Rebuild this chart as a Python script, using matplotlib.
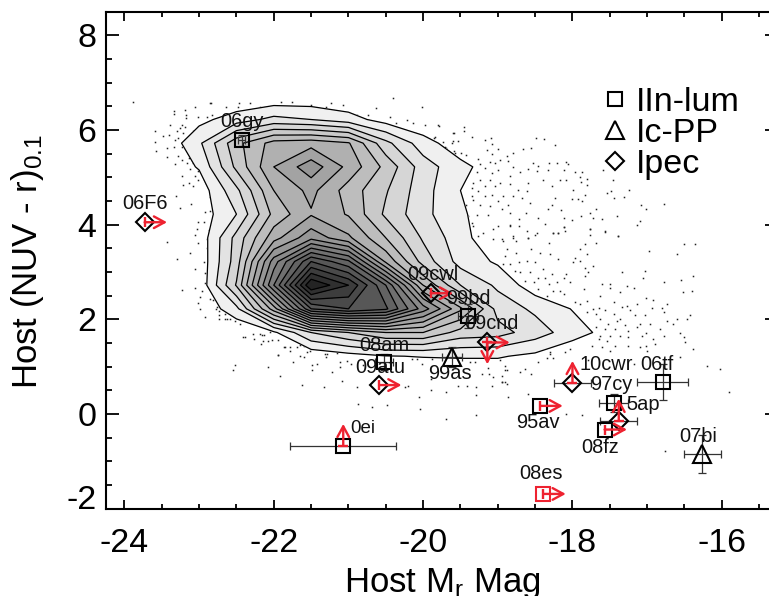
import numpy as np
import matplotlib
matplotlib.use('Agg')
import matplotlib.pyplot as plt
from matplotlib.ticker import MultipleLocator

plt.rcParams['font.family'] = ['Liberation Sans', 'DejaVu Sans']
plt.rcParams['mathtext.default'] = 'regular'
plt.rcParams['axes.unicode_minus'] = False

# binned galaxy density
grid_x = [-23.5, -23, -22.5, -22, -21.5, -21, -20.5, -20, -19.5, -19, -18.5, -18, -17.5, -17, -16.5]
grid_y = [6.72, 6.22, 5.72, 5.22, 4.72, 4.22, 3.72, 3.22, 2.72, 2.22, 1.72, 1.22, 0.72]
density = [
    [0, 0, 0, .1, .18, 0, 0, 0, 0, 0, 0, 0, 0, 0, 0],
    [0, .7, 1.5, 2.3, 2.0, 1.45, .55, .1, 0, 0, 0, 0, 0, 0, 0],
    [.1, 1.8, 4.7, 6.4, 6.6, 6.1, 3.3, 1.45, .35, .1, 0, 0, 0, 0, 0],
    [.1, 1.1, 4.25, 7.0, 8.6, 6.7, 4.7, 2.5, 1.3, .39, 0, 0, 0, 0, 0],
    [0, .36, 2.75, 6.0, 7.3, 5.55, 4.1, 2.4, 1.0, .3, 0, 0, 0, 0, 0],
    [0, .39, 2.0, 5.3, 6.9, 5.9, 3.8, 2.3, 1.15, .36, .05, 0, 0, 0, 0],
    [0, .3, 3.35, 6.6, 8.7, 7.2, 5.0, 2.85, 1.4, .1, 0, 0, 0, 0, 0],
    [0, .25, 3.5, 9.5, 14, 12.2, 6.8, 3.6, 1.6, .85, .1, 0, 0, 0, 0],
    [0, .2, 4.1, 11, 18, 16, 12, 6, 3, 1.8, .39, 0, 0, 0, 0],
    [0, .05, 1.7, 6.5, 13, 14, 13.2, 9.5, 6.2, 2.6, 1.8, .95, .05, 0, 0],
    [0, 0, .05, .8, 3, 4, 5, 5, 3.6, 3.4, 2.5, 1.47, .6, .05, 0],
    [0, 0, 0, 0, .2, .57, .95, 1.05, 1.1, 1.1, .76, .1, 0, 0, 0],
    [0, 0, 0, 0, 0, 0, 0, 0, 0, 0, 0, 0, 0, 0, 0],
]

# galaxies outside the lowest contour
dots_upper_right = [
    (-19.79,6.12),(-19.45,6.09),(-19.84,5.89),(-19.59,5.96),(-19.45,6.0),(-19.35,5.89),(-19.17,5.82),(-19.09,5.87),
    (-19.73,5.77),(-19.62,5.75),(-19.53,5.8),(-19.08,5.73),(-19.0,5.63),(-19.7,5.65),(-19.57,5.54),(-19.49,5.54),
    (-19.42,5.51),(-19.15,5.6),(-19.08,5.52),(-19.26,5.42),(-18.88,5.47),(-18.79,5.54),(-18.66,5.63),(-18.55,5.65),
    (-18.49,5.86),(-18.38,5.84),(-18.24,5.72),(-18.53,5.33),(-18.46,5.26),(-18.31,5.33),(-18.21,5.33),(-18.08,5.35),
    (-18.06,5.3),(-17.59,5.19),(-17.97,5.14),(-17.87,5.14),(-18.12,5.19),(-18.33,5.19),(-18.47,5.17),(-18.59,5.21),
    (-18.7,5.14),(-18.79,5.25),(-18.87,5.38),(-18.97,5.4),(-19.04,5.33),(-19.11,5.35),(-19.24,5.31),(-19.17,5.23),
    (-19.0,5.19),(-19.08,5.12),(-19.28,5.14),(-18.84,5.05),(-19.24,4.98),(-19.11,4.98),(-18.97,4.91),(-19.33,4.91),
    (-19.35,4.81),(-19.17,4.84),(-19.04,4.84),(-18.84,4.88),(-18.59,4.91),(-18.39,4.98),(-18.28,4.84),(-18.17,4.98),
    (-18.08,4.97),(-17.9,5.03),(-17.8,5.0),(-17.88,4.92),(-17.81,4.86),(-17.46,4.98),(-17.54,4.7),(-17.48,4.75),
    (-17.45,4.59),(-17.24,4.76),(-17.31,4.61),(-17.99,4.76),(-17.83,4.66),(-18.61,4.75),(-18.73,4.77),(-19.26,4.75),
    (-19.35,4.63),(-19.17,4.63),(-19.08,4.66),(-18.93,4.63),(-18.79,4.63),(-18.68,4.59),(-18.57,4.49),(-19.33,4.54),
    (-19.42,4.45),(-19.24,4.45),(-19.11,4.42),(-19.0,4.52),(-18.86,4.45),(-18.24,4.59),(-18.01,4.58),(-17.92,4.58),
    (-17.87,4.52),(-18.28,4.45),(-18.33,4.35),(-18.15,4.34),(-18.62,4.28),(-18.84,4.28),(-18.95,4.35),(-19.28,4.24),
    (-19.4,4.21),(-19.13,4.24),(-18.71,4.14),(-18.46,4.17),(-18.37,4.05),(-18.12,4.17),(-18.01,4.12),(-17.88,4.21),
    (-17.77,4.28),(-17.69,4.37),(-17.73,4.17),(-17.61,4.15),(-17.4,4.21),(-17.08,4.44),(-17.02,4.35),(-16.78,4.47),
    (-17.09,4.1),(-17.14,4.03),(-17.77,3.93),(-17.56,3.88),(-17.77,3.81),(-17.39,3.79),(-18.26,3.86),(-18.19,3.86),
    (-18.11,3.98),(-18.1,3.89),(-18.48,3.86),(-18.59,3.75),(-18.79,3.75),(-19.0,4.0),(-19.06,3.93),(-19.2,3.86),
    (-19.33,4.0),(-19.35,4.07),(-19.26,3.79),(-18.84,4.03),(-19.06,3.73),(-18.95,3.72),
]
dots_lower_right = [
    (-18.84,4.0),(-18.72,4.0),(-18.61,3.89),(-18.79,3.79),(-18.5,3.82),(-18.26,3.86),(-18.12,3.98),(-18.19,3.86),
    (-17.76,3.93),(-17.56,3.89),(-17.39,3.79),(-18.93,3.68),(-18.75,3.68),(-18.59,3.75),(-18.32,3.65),(-17.83,3.61),
    (-17.68,3.65),(-16.51,3.61),(-16.36,3.63),(-18.88,3.51),(-18.55,3.51),(-17.9,3.51),(-16.6,3.4),(-16.97,3.47),
    (-18.75,3.44),(-18.43,3.42),(-18.3,3.4),(-18.19,3.3),(-17.97,3.33),(-17.81,3.4),(-18.9,3.37),(-18.61,3.26),
    (-18.5,3.23),(-17.99,3.23),(-17.9,3.26),(-18.93,3.19),(-18.84,3.19),(-18.72,3.23),(-18.39,3.09),(-18.28,2.98),
    (-17.83,3.12),(-17.72,3.16),(-17.79,3.02),(-17.34,3.02),(-17.03,3.05),(-17.05,2.9),(-18.77,3.05),(-18.7,3.02),
    (-18.57,3.02),(-18.08,2.98),(-18.46,2.91),(-18.37,2.9),(-18.12,2.9),(-18.64,2.84),(-18.52,2.81),(-18.32,2.77),
    (-18.21,2.81),(-18.03,2.81),(-17.83,2.95),(-17.61,2.77),(-17.5,2.77),(-16.78,2.81),(-16.54,2.86),(-16.38,2.95),
    (-18.46,2.67),(-18.26,2.63),(-18.17,2.63),(-17.85,2.67),(-17.5,2.7),(-17.18,2.7),(-17.27,2.74),(-16.4,2.63),
    (-16.52,2.6),(-18.34,2.53),(-18.12,2.56),(-17.81,2.42),(-17.63,2.53),(-17.36,2.6),(-17.01,2.48),(-16.92,2.44),
    (-17.97,2.39),(-17.9,2.35),(-17.45,2.39),(-17.27,2.32),(-17.14,2.36),(-16.74,2.36),(-16.94,2.27),(-16.8,2.27),
    (-17.72,2.25),(-17.65,2.27),(-17.56,2.22),(-17.34,2.28),(-17.23,2.22),(-17.81,2.18),(-17.68,2.14),(-17.45,2.14),
    (-17.36,2.04),(-17.16,2.11),(-17.03,2.11),(-16.78,2.18),(-16.43,2.11),(-16.6,2.04),(-16.47,2.04),(-17.63,2.04),
    (-17.52,1.93),(-17.41,2.0),(-17.3,1.9),(-17.1,1.93),(-16.96,1.92),(-16.74,2.0),(-16.83,1.82),(-16.65,1.93),
    (-16.56,1.75),(-17.68,1.86),(-17.56,1.82),(-17.43,1.82),(-17.25,1.79),(-17.14,1.86),(-17.01,1.75),(-16.78,1.68),
    (-17.63,1.68),(-17.5,1.68),(-17.36,1.68),(-17.25,1.65),(-17.07,1.68),(-16.51,1.65),(-16.92,1.61),(-17.65,1.61),
    (-17.54,1.58),(-17.43,1.47),(-17.25,1.47),(-17.09,1.44),(-17.01,1.47),(-16.89,1.51),(-16.38,1.4),(-16.49,1.54),
    (-17.74,1.47),(-17.61,1.44),(-18.03,1.4),(-18.1,1.33),(-18.3,1.33),(-18.26,1.21),(-18.34,1.21),
    (-16.2,1.05),(-16.03,.97),(-15.9,.5),(-16.76,-.76),(-17.87,-.0),(-18.08,.02),(-18.6,.46),(-18.87,.38),
    (-18.46,1.12),(-18.88,.95),(-18.7,.91),(-18.55,.88),(-18.95,.7),(-18.9,.7),(-18.64,.98),(-18.3,1.3),
    (-17.79,1.16),(-17.18,1.09),(-16.56,1.23),(-17.0,1.37),(-17.5,1.37),
]
dots_lower = [
    (-22.39,1.66),(-22.27,1.61),(-22.18,1.71),(-22.13,1.69),(-22.17,1.51),(-22.08,1.57),(-22.03,1.59),(-21.95,1.59),
    (-21.87,1.45),(-21.78,1.45),(-21.69,1.44),(-21.6,1.47),(-21.78,1.37),(-21.65,1.26),(-21.51,1.37),(-21.94,1.28),
    (-21.6,1.23),(-21.74,1.12),(-22.08,1.03),(-22.52,1.07),(-22.54,.96),(-21.49,1.07),(-21.42,1.09),(-21.49,.95),
    (-21.31,1.3),(-21.3,1.23),(-21.16,1.31),(-21.22,.91),(-21.11,1.12),(-21.02,1.14),(-21.11,1.03),(-20.97,1.09),
    (-20.8,1.07),(-21.92,.84),(-21.62,.65),(-21.33,.6),(-21.09,.72),(-20.89,.6),(-20.87,.23),(-20.69,.17),
    (-20.48,.21),(-20.04,.13),(-19.7,-.08),(-19.29,.0),(-20.2,.63),(-20.24,.6),(-20.06,.39),(-20.15,1.19),
    (-20.08,1.19),(-20.02,1.09),(-19.88,1.19),(-19.9,.77),(-19.9,.53),(-19.7,.49),(-19.53,.63),(-19.41,.63),
    (-19.29,.6),(-19.29,.44),(-19.37,1.12),(-19.3,1.12),(-19.21,.88),(-19.12,.88),(-19.06,.81),(-19.08,.63),
    (-18.95,.7),(-18.9,.95),(-18.9,1.05),(-18.97,1.16),(-19.13,1.0),(-18.88,.67),(-18.95,.84),
    (-22.77,2.25),(-22.74,2.11),(-22.63,2.04),(-22.52,2.0),(-22.45,1.93),(-22.92,2.07),(-22.41,1.65),(-22.28,1.72),
    (-22.16,1.69),(-22.05,1.76),(-22.15,1.58),(-21.94,1.27),(-21.85,1.44),(-21.65,1.48),(-21.56,1.34),(-21.29,1.3),
]
dots_left = [
    (-23.89,6.63),(-22.84,6.59),(-23.05,6.52),(-23.19,6.45),(-23.33,6.42),(-23.34,6.36),(-23.17,6.35),(-23.17,6.28),
    (-23.02,6.3),(-22.9,6.31),(-22.83,6.35),(-23.39,6.14),(-23.23,6.14),(-23.25,6.07),(-23.01,6.1),(-23.19,6.1),
    (-23.08,6.0),(-23.59,6.0),(-23.41,5.93),(-23.48,5.91),(-23.3,6.0),(-23.21,5.96),(-23.28,5.86),(-23.32,5.82),
    (-23.59,5.77),(-23.58,5.59),(-23.43,5.65),(-23.34,5.68),(-23.23,5.68),(-23.28,5.47),(-23.43,5.45),(-23.32,5.3),
    (-23.23,5.4),(-23.14,5.44),(-23.16,5.33),(-23.08,5.33),(-23.12,5.21),(-23.01,5.16),(-23.23,5.05),(-23.05,5.05),
    (-23.01,4.98),(-23.21,4.87),(-23.08,4.84),(-23.14,4.91),(-22.85,4.61),(-23.31,4.64),(-23.25,4.38),(-23.11,4.47),
    (-22.82,4.42),(-22.85,4.31),(-22.92,4.3),(-23.01,4.08),(-22.94,4.08),(-22.87,3.91),(-23.03,3.93),(-23.05,3.8),
    (-22.89,3.72),(-23.01,3.65),(-23.43,3.66),(-22.9,3.54),(-23.12,3.42),(-23.3,3.3),(-22.94,3.23),(-23.05,3.09),
    (-22.92,3.0),(-22.92,2.8),(-23.05,2.7),(-23.23,2.65),(-22.99,2.49),(-22.96,2.63),(-22.85,2.45),(-22.81,2.43),
    (-23.01,2.38),(-22.99,2.24),(-22.76,2.28),(-22.74,2.21),(-22.65,2.14),(-22.74,2.03),(-22.65,2.03),(-22.58,2.03),
]
dots_top = [
    (-22.86,6.59),(-22.64,6.52),(-22.46,6.59),(-22.48,6.52),(-22.32,6.59),(-22.19,6.52),(-21.9,6.63),(-21.76,6.63),
    (-21.71,6.52),(-21.5,6.56),(-21.23,6.59),(-21.3,6.52),(-21.07,6.56),(-20.89,6.35),(-20.74,6.35),(-20.63,6.49),
    (-20.4,6.71),(-20.45,6.31),(-20.22,6.24),(-20.36,6.17),(-20.02,6.52),(-20.14,6.17),(-19.98,6.14),(-20.11,5.96),
    (-19.96,5.89),(-19.8,6.14),(-19.85,5.86),(-19.71,5.68),(-19.6,5.79),(-19.58,5.58),(-19.6,5.96),
]

# supernova hosts: name, Mr, colour, x err, y err
iin_names = ['06gy', '99bd', '08am', '97cy', '95av', '08fz', '06tf', '08es', '0ei']
iin_x = [-22.43, -19.40, -20.53, -17.45, -18.43, -17.57, -16.79, -18.39, -21.07]
iin_y = [5.78, 2.07, 1.09, 0.23, 0.17, -0.33, 0.67, -1.69, -0.67]
iin_xerr = [0.05, 0.13, 0.12, 0.20, 0, 0, 0.34, 0, 0.71]
iin_yerr = [0.12, 0.26, 0.17, 0.19, 0, 0, 0.38, 0, 0]
ic_names = ['99as', '07bi']
ic_x = [-19.61, -16.26]
ic_y = [1.20, -0.85]
ic_xerr = [0.135, 0.25]
ic_yerr = [0.21, 0.40]
pec_names = ['06F6', '09cwl', '09cnd', '09atu', '10cwr', '5ap']
pec_x = [-23.73, -19.90, -19.14, -20.59, -18.00, -17.38]
pec_y = [4.05, 2.55, 1.51, 0.61, 0.66, -0.14]
pec_xerr = [0, 0, 0, 0, 0.245, 0.245]
pec_yerr = [0, 0, 0, 0, 0, 0]

limit_right = ['06F6', '09cwl', '09cnd', '09atu', '95av', '08fz', '08es']
limit_up = ['10cwr', '5ap', '0ei']
limit_down = ['09cnd']

x_ticks = [-24, -22, -20, -18, -16]
y_ticks = [-2, 0, 2, 4, 6, 8]

RED = '#ee2230'
W, H = 769, 596
label_offsets = {'06gy': (0, 19), '06F6': (0, 19), '09cwl': (2, 19), '99bd': (0, 17), '09cnd': (4, 19),
                 '08am': (1, 17), '09atu': (1, 18), '99as': (-2, -16), '10cwr': (34, 18), '97cy': (-2, 19),
                 '5ap': (24, 16), '95av': (-2, -17), '08fz': (-4, -18), '06tf': (-6, 18), '07bi': (-4, 18),
                 '08es': (-2, 20), '0ei': (20, 17)}

fig = plt.figure(figsize=(W / 100, H / 100), dpi=100)
ax = fig.add_axes([105.8 / W, (H - 508.6) / H, 672 / W, 497 / H])
ax.set_xlim(-24.25, -15.25)
ax.set_ylim(-2, 8.5)

dots = np.array(dots_upper_right + dots_lower_right + dots_lower + dots_left + dots_top)
ax.plot(dots[:, 0], dots[:, 1] - 0.03, ls='none', marker='s', ms=1.1, mew=0, color='#222222', zorder=1)

levels = list(range(1, 18))
greys = [str(round(0.94 - (k - 1) * 0.05, 3)) for k in levels]
ax.contourf(grid_x, grid_y, density, levels=levels + [30], colors=greys, zorder=2)
ax.contour(grid_x, grid_y, density, levels=levels, colors='black', linewidths=0.9, zorder=3)


def draw_group(names, xs, ys, xerr, yerr, marker, size):
    for name, x, y, ex, ey in zip(names, xs, ys, xerr, yerr):
        col = RED if name == '08es' else 'black'
        if ex or ey:
            ax.errorbar(x, y, xerr=ex or None, yerr=ey or None, fmt='none', ecolor='#333333',
                        elinewidth=0.9, capsize=3.2, capthick=0.9, zorder=4)
        ax.plot(x, y, marker=marker, ms=size, mfc='none', mec=col, mew=1.5, ls='none', zorder=5)
        dx, dy = label_offsets[name]
        ax.annotate(name, (x, y), xytext=(dx * 0.72, dy * 0.72), textcoords='offset points',
                    ha='center', va='center', fontsize=13.5 if name == '0ei' else 14.4,
                    color='#111111', zorder=7)
        arrows = []
        if name in limit_right:
            arrows.append((0.3, 0))
        if name in limit_up:
            arrows.append((0, 0.46))
        if name in limit_down:
            arrows.append((0, -0.46))
        for ax_dx, ax_dy in arrows:
            ax.annotate('', xy=(x + ax_dx, y + ax_dy), xytext=(x, y), zorder=6,
                        arrowprops=dict(arrowstyle='->,head_length=0.55,head_width=0.3', color=RED, lw=1.7,
                                        shrinkA=0, shrinkB=0, mutation_scale=14))
            ax.plot(x, y, marker='|' if ax_dx else '_', ms=7, mew=1.7, color=RED, zorder=6)


draw_group(iin_names, iin_x, iin_y, iin_xerr, iin_yerr, 's', 10)
draw_group(ic_names, ic_x, ic_y, ic_xerr, ic_yerr, '^', 13)
draw_group(pec_names, pec_x, pec_y, pec_xerr, pec_yerr, 'D', 9.5)

h1, = ax.plot([], [], 's', ms=10, mfc='none', mec='black', mew=1.5, label='IIn-lum')
h2, = ax.plot([], [], '^', ms=13, mfc='none', mec='black', mew=1.5, label='Ic-PP')
h3, = ax.plot([], [], 'D', ms=9.5, mfc='none', mec='black', mew=1.5, label='Ipec')
ax.legend(handles=[h1, h2, h3], frameon=False, fontsize=24.5, loc='upper left',
          bbox_to_anchor=(0.712, 0.882), borderpad=0, labelspacing=0.0, handlelength=0.8,
          handletextpad=0.22, numpoints=1)

ax.set_xticks(x_ticks)
ax.set_yticks(y_ticks)
ax.xaxis.set_minor_locator(MultipleLocator(0.5))
ax.yaxis.set_minor_locator(MultipleLocator(0.5))
ax.tick_params(axis='x', which='major', direction='in', top=True, length=6.5, width=1.3, labelsize=24.5, pad=14)
ax.tick_params(axis='x', which='minor', direction='in', top=True, length=3.6, width=1.3)
ax.tick_params(axis='y', which='major', direction='in', right=True, length=9.4, width=1.3, labelsize=24.5, pad=6.7)
ax.tick_params(axis='y', which='minor', direction='in', right=True, length=4.3, width=1.3)
for lab in ax.get_yticklabels():
    if lab.get_text() == '-2':
        lab.set_verticalalignment('baseline')
for side in ax.spines.values():
    side.set_linewidth(1.5)

ax.set_xlabel('Host M$_r$ Mag', fontsize=25, labelpad=2)
ax.xaxis.set_label_coords((442 - 105.8) / 672, -0.115)
ax.set_ylabel('Host (NUV - r)$_{0.1}$', fontsize=25)
ax.yaxis.set_label_coords(-0.089, 0.498)

fig.savefig('out.png', dpi=100)
